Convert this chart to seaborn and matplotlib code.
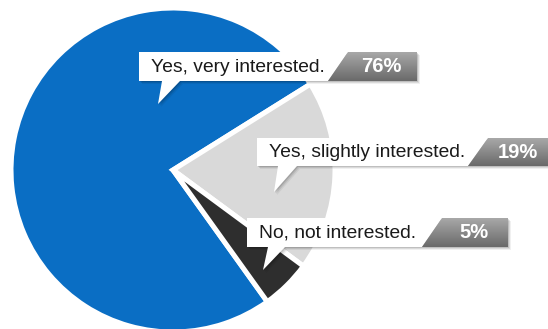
import numpy as np
import matplotlib
matplotlib.use("Agg")
import matplotlib.pyplot as plt
import seaborn as sns
from matplotlib.patches import Polygon

## 데이터
answers = ["Yes, very interested.", "Yes, slightly interested.", "No, not interested."]
shares = [76, 19, 5]
pct_labels = ["76%", "19%", "5%"]
colors = ["#0a6ec4", "#d9d9d9", "#2e2e2e"]

sns.set_theme(style="white")
plt.rcParams['font.family'] = ['Liberation Sans', 'DejaVu Sans']

W, H = 548, 329
fig = plt.figure(figsize=(W / 100, H / 100), dpi=100)
ax = fig.add_axes([0, 0, 1, 1])

## pie (픽셀 좌표, y는 아래에서 위로)
cx, cy, r = 173, H - 170, 162
start = 32 + 360 * shares[0] / 100
wedges, _ = ax.pie(shares, colors=colors, startangle=start, counterclock=False,
                   center=(cx, cy), radius=r,
                   wedgeprops=dict(edgecolor='white', linewidth=3.6))
for w in wedges:
    w.set_zorder(1)

## 말풍선 위치 (px, 위에서부터)
boxes = [
    # x0, top, bot, slant_top, slant_bot, x1, pointer left, pointer right, tip, pct x
    (139, 52, 81, 348, 328, 417, 162, 180, (158, 104), 381),
    (257, 138, 166, 488, 468, 570, 278, 297, (274, 192), 518),
    (247, 218, 247, 442, 422, 508, 268, 285, (263, 270), 474),
]

def P(x, y):
    return (x, H - y)

grad = np.linspace(0, 1, 64).reshape(-1, 1)
cmap = matplotlib.colors.LinearSegmentedColormap.from_list('g', ['#a8a8a8', '#6a6a6a'])

for (x0, top, bot, st, sb, x1, pl, pr, tip, px), lab, pct in zip(boxes, answers, pct_labels):
    white_pts = [P(x0, top), P(st, top), P(sb, bot), P(pr, bot), P(*tip), P(pl, bot), P(x0, bot)]
    gray_pts = [P(st, top), P(x1, top), P(x1, bot), P(sb, bot)]
    # 그림자
    for k, a in [(1, 0.12), (2, 0.09), (3, 0.06)]:
        ax.add_patch(Polygon([(x + k, y - k) for x, y in white_pts], closed=True,
                             facecolor='black', edgecolor='none', alpha=a, zorder=2))
        ax.add_patch(Polygon([(x + k, y - k) for x, y in gray_pts], closed=True,
                             facecolor='black', edgecolor='none', alpha=a, zorder=2))
    ax.add_patch(Polygon(white_pts, closed=True, facecolor='white', edgecolor='none', zorder=3))
    gp = Polygon(gray_pts, closed=True, facecolor='none', edgecolor='none', zorder=3)
    ax.add_patch(gp)
    im = ax.imshow(grad, extent=[sb, x1, H - bot, H - top], cmap=cmap, aspect='auto',
                   origin='upper', zorder=3)
    im.set_clip_path(gp)
    ymid = H - (top + bot) / 2
    ax.text(x0 + 12, ymid - 0.5, lab, fontsize=13.9, color='#1a1a1a',
            ha='left', va='center', zorder=4)
    ax.text(px, ymid, pct, fontsize=14.5, fontweight='bold', color='white',
            ha='center', va='center', zorder=4)

ax.set_xlim(0, W)
ax.set_ylim(0, H)
ax.set_aspect('auto')
ax.axis('off')

plt.savefig('out.png', dpi=100)
